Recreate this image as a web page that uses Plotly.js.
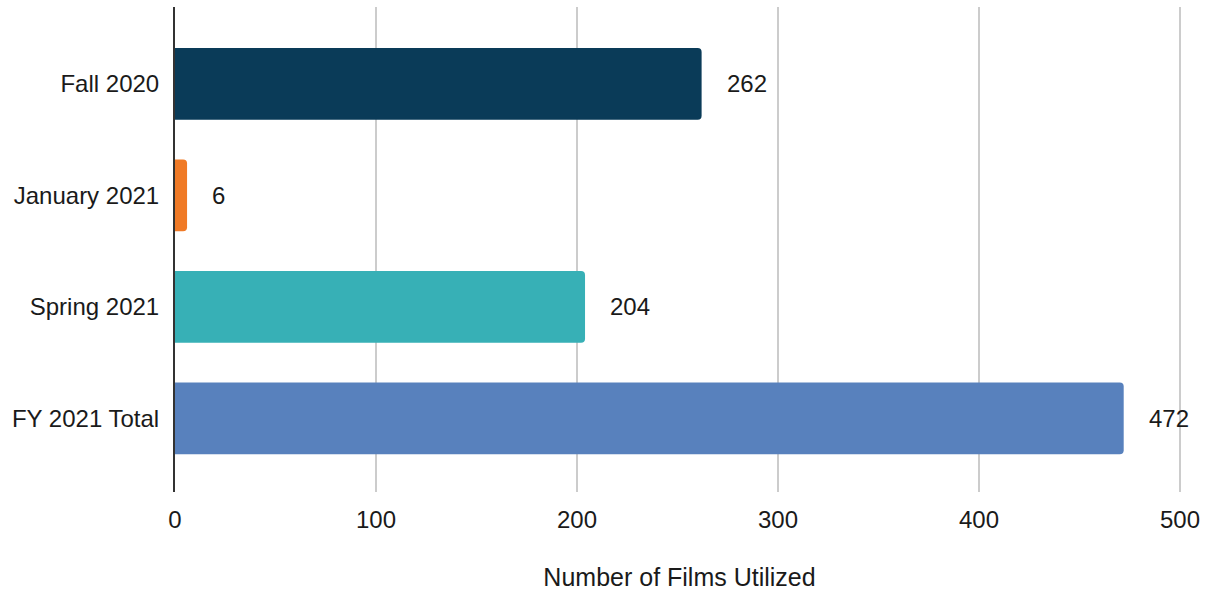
<!DOCTYPE html>
<html>
<head>
<meta charset="utf-8">
<script src="https://cdn.plot.ly/plotly-3.0.1.min.js"></script>
<style>html,body{margin:0;padding:0;background:#fff;}#chart{width:1212px;height:592px;}</style>
</head>
<body>
<div id="chart"></div>
<script>
const categories = ["Fall 2020", "January 2021", "Spring 2021", "FY 2021 Total"];
const films = [262, 6, 204, 472];
const barColors = ["#0a3b58", "#f07a26", "#37b0b6", "#5881bd"];
const xTicks = [0, 100, 200, 300, 400, 500];
const axisTitle = "Number of Films Utilized";

const trace = {
  type: "bar",
  orientation: "h",
  y: categories,
  x: films,
  marker: {color: barColors, cornerradius: 4},
  hoverinfo: "none"
};

const annotations = categories.map((c, i) => ({
  x: films[i], y: c, xref: "x", yref: "y",
  text: String(films[i]), showarrow: false,
  xanchor: "left", xshift: 23,
  font: {family: "Liberation Sans, Arial, sans-serif", size: 24, color: "#1a1a1a"}
}));

const layout = {
  width: 1212, height: 592,
  margin: {l: 175, r: 28, t: 7, b: 100},
  paper_bgcolor: "#fff", plot_bgcolor: "#fff",
  font: {family: "Liberation Sans, Arial, sans-serif", size: 24, color: "#1a1a1a"},
  bargap: 0.357,
  showlegend: false,
  xaxis: {
    range: [0, 502],
    tickvals: xTicks,
    ticktext: xTicks.map(String),
    showgrid: true, gridcolor: "#cccccc", gridwidth: 2,
    zeroline: false, showline: false,
    ticks: "", ticklabelstandoff: 11,
    tickfont: {size: 24, color: "#1a1a1a"},
    title: {text: axisTitle, font: {size: 25, color: "#1a1a1a"}, standoff: 36}
  },
  yaxis: {
    type: "category",
    categoryorder: "array", categoryarray: categories,
    range: [3.66, -0.69],
    showgrid: false, zeroline: false,
    showline: true, linecolor: "#333", linewidth: 2,
    ticks: "", ticklabelstandoff: 9,
    tickfont: {size: 24, color: "#1a1a1a"}
  },
  annotations: annotations
};

Plotly.newPlot("chart", [trace], layout, {displayModeBar: false, staticPlot: true});
</script>
</body>
</html>
